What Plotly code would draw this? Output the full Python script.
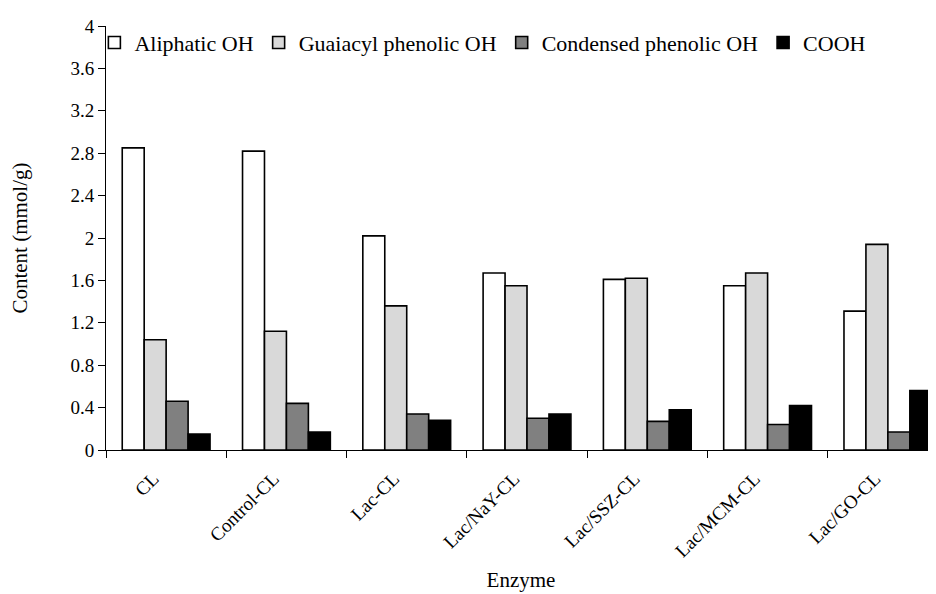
import plotly.graph_objects as go

categories = ["CL", "Control-CL", "Lac-CL", "Lac/NaY-CL", "Lac/SSZ-CL", "Lac/MCM-CL", "Lac/GO-CL"]
aliphatic_oh = [2.85, 2.82, 2.02, 1.67, 1.61, 1.55, 1.31]
guaiacyl_phenolic_oh = [1.04, 1.12, 1.36, 1.55, 1.62, 1.67, 1.94]
condensed_phenolic_oh = [0.46, 0.44, 0.34, 0.30, 0.27, 0.24, 0.17]
cooh = [0.15, 0.17, 0.28, 0.34, 0.38, 0.42, 0.56]

series = [
    ("Aliphatic OH", aliphatic_oh, "#ffffff"),
    ("Guaiacyl phenolic OH", guaiacyl_phenolic_oh, "#d9d9d9"),
    ("Condensed phenolic OH", condensed_phenolic_oh, "#808080"),
    ("COOH", cooh, "#000000"),
]

font_family = "Liberation Serif, Times New Roman, serif"
xtick_fs = 19
ytick_fs = 19
legend_fs = 22
title_fs = 21

fig = go.Figure()
for name, vals, col in series:
    fig.add_trace(go.Bar(
        x=categories, y=vals, name=name,
        marker=dict(color=col, line=dict(color="black", width=1.6)),
    ))

fig.update_layout(
    width=936, height=594,
    barmode="group", bargap=0.27, bargroupgap=0,
    plot_bgcolor="white", paper_bgcolor="white",
    margin=dict(l=89, r=8, t=15, b=152),
    font=dict(family=font_family, size=ytick_fs, color="black"),
    showlegend=True,
    legend=dict(orientation="h", x=-0.014, y=1.01, xanchor="left", yanchor="top",
                font=dict(size=legend_fs, family=font_family), bgcolor="rgba(0,0,0,0)",
                itemwidth=30, tracegroupgap=0),
    xaxis=dict(
        range=[-0.5, 6.4], showline=True, linecolor="black", linewidth=1,
        ticks="outside", ticklen=7, tickcolor="black", tickson="boundaries",
        tickangle=-45, tickfont=dict(size=xtick_fs, family=font_family),
        ticklabelshift=-13, ticklabelstandoff=9,
        title=dict(text="Enzyme", font=dict(size=title_fs, family=font_family), standoff=12),
        showgrid=False, zeroline=False,
    ),
    yaxis=dict(
        range=[0, 4], dtick=0.4, tick0=0, showline=True, linecolor="black", linewidth=1,
        ticks="outside", ticklen=7, tickcolor="black",
        tickfont=dict(size=ytick_fs, family=font_family),
        title=dict(text="Content (mmol/g)", font=dict(size=title_fs, family=font_family), standoff=40),
        showgrid=False, zeroline=False,
    ),
)

fig.write_html("out.html")
